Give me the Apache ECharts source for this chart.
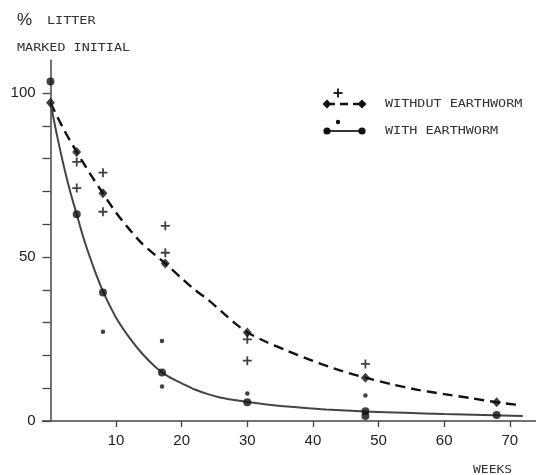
<!DOCTYPE html>
<html><head><meta charset="utf-8">
<script src="https://cdn.jsdelivr.net/npm/echarts@6/dist/echarts.min.js"></script>
<style>html,body{margin:0;padding:0;background:#fff}#c{width:536px;height:475px}</style>
</head><body><div id="c"></div>
<script>
// Data (weeks, % litter marked initial)
const withoutMeans = [[0,97],[4,82],[8,69.4],[17.5,48],[30,27],[48,13.2],[68,5.7]];
const withoutReps  = [[4,79],[4,71],[8,75.7],[8,63.8],[17.5,59.5],[17.5,51.3],[30,24.9],[30,18.4],[48,17.4]];
const withMeans    = [[0,103.5],[4,63],[8,39.2],[17,14.8],[30,5.7],[48,3],[48,1.5],[68,1.8]];
const withReps     = [[8,27.2],[17,24.4],[17,10.5],[30,8.4],[48,7.8]];
// fitted curves
const withoutCurve = [[0,97],[2,89],[4,82],[6,75.5],[8,69.4],[10,63.5],[12,58.5],[14,54],[17.5,48],[20,43.5],[22,40],[24,37],[26,33.5],[28,30],[30,27],[33,24],[36,21.5],[40,18.3],[44,15.5],[48,13.2],[52,11.2],[56,9.5],[60,8.2],[64,7],[68,5.7],[71.7,4.8]];
const withCurve    = [[0,97],[1,87],[2,78],[3,70],[4,63],[5,56],[6,50],[7,44.5],[8,39.5],[10,31.5],[12,25.5],[14,20.5],[16,16.5],[18,13.5],[20,11.5],[22,9.6],[24,8.2],[26,7.1],[28,6.4],[30,5.8],[34,4.8],[38,4.1],[42,3.5],[48,2.9],[54,2.5],[60,2.1],[66,1.8],[72,1.5]];
const xTicks = [10,20,30,40,50,60,70];
const yTicks = [0,10,20,30,40,50,60,70,80,90,100];
const yLabels = [0,50,100];

const plusPath = 'path://M4,0H6V4H10V6H6V10H4V6H0V4H4Z';
const mono = 'DejaVu Sans Mono';
const txtColor = '#333';
function label(text, x, y, size, sx) {
  return {type:'text', x:x, y:y, scaleX:sx||1.22,
    style:{text:text, fontFamily:mono, fontSize:size||11, fill:txtColor, verticalAlign:'middle'}};
}

const chart = echarts.init(document.getElementById('c'), null, {renderer:'canvas'});
chart.setOption({
  animation:false,
  backgroundColor:'#fff',
  grid:{left:42.6, right:0, top:60.2, bottom:54, containLabel:false},
  xAxis:{type:'value', min:-1.2, max:74,
    axisLine:{onZero:false, lineStyle:{color:'#444', width:1.5}},
    axisTick:{customValues:xTicks, length:6, lineStyle:{color:'#444', width:1.3}},
    axisLabel:{customValues:xTicks, margin:12, fontSize:15, color:'#222', fontFamily:'Liberation Sans'},
    splitLine:{show:false}},
  yAxis:{type:'value', min:0, max:110,
    axisLine:{onZero:true, lineStyle:{color:'#444', width:1.5}},
    axisTick:{customValues:yTicks, length:8, lineStyle:{color:'#444', width:1.3}},
    axisLabel:{customValues:yLabels, margin:7, fontSize:15, color:'#222', fontFamily:'Liberation Sans'},
    splitLine:{show:false}},
  series:[
    {name:'WITHDUT EARTHWORM curve', type:'line', data:withoutCurve, smooth:0.25, symbol:'none',
      lineStyle:{color:'#111', width:2.4, type:[10,6]}},
    {name:'WITH EARTHWORM curve', type:'line', data:withCurve, smooth:0.25, symbol:'none',
      lineStyle:{color:'#444', width:2}},
    {name:'WITHDUT EARTHWORM', type:'scatter', data:withoutMeans, symbol:'diamond', symbolSize:[9,10], itemStyle:{color:'#111'}, z:5},
    {name:'WITHDUT EARTHWORM replicates', type:'scatter', data:withoutReps, symbol:plusPath, symbolSize:9, itemStyle:{color:'#111'}, z:5},
    {name:'WITH EARTHWORM', type:'scatter', data:withMeans, symbol:'circle', symbolSize:8, itemStyle:{color:'#111'}, z:5},
    {name:'WITH EARTHWORM replicates', type:'scatter', data:withReps, symbol:'circle', symbolSize:4.5, itemStyle:{color:'#111'}, z:5}
  ],
  graphic:[
    {type:'text', x:17, y:20, style:{text:'%', fontFamily:'Liberation Sans', fontSize:17, fill:'#222', verticalAlign:'middle'}},
    label('LITTER', 47, 21),
    label('MARKED INITIAL', 17, 48),
    label('WEEKS', 473, 470, 11, 1.18),
    // legend
    {type:'line', shape:{x1:333.5, y1:93, x2:342.5, y2:93}, style:{stroke:'#111', lineWidth:1.8}},
    {type:'line', shape:{x1:338, y1:88.5, x2:338, y2:97.5}, style:{stroke:'#111', lineWidth:1.8}},
    {type:'line', shape:{x1:327, y1:104, x2:362, y2:104}, style:{stroke:'#111', lineWidth:2.4, lineDash:[8,5]}},
    {type:'polygon', shape:{points:[[327,99.5],[331.5,104],[327,108.5],[322.5,104]]}, style:{fill:'#111'}},
    {type:'polygon', shape:{points:[[362,99.5],[366.5,104],[362,108.5],[357.5,104]]}, style:{fill:'#111'}},
    label('WITHDUT EARTHWORM', 385, 104),
    {type:'circle', shape:{cx:338, cy:122, r:2.2}, style:{fill:'#111'}},
    {type:'line', shape:{x1:327, y1:131, x2:362, y2:131}, style:{stroke:'#333', lineWidth:2}},
    {type:'circle', shape:{cx:327, cy:131, r:3.6}, style:{fill:'#111'}},
    {type:'circle', shape:{cx:362, cy:131, r:3.6}, style:{fill:'#111'}},
    label('WITH EARTHWORM', 385, 131)
  ]
});
</script>
</body></html>
